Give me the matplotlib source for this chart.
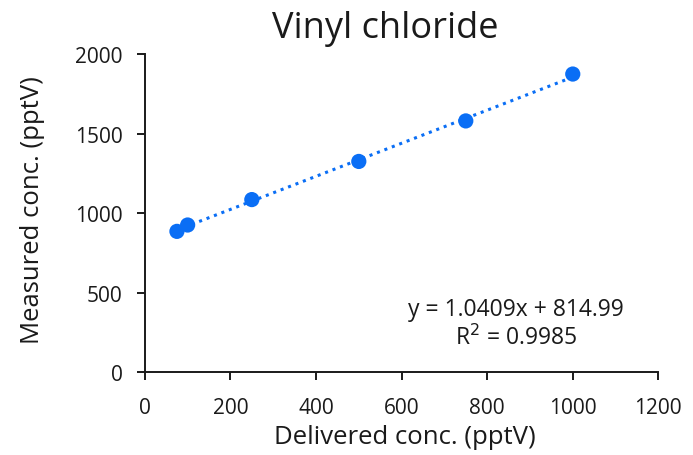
import numpy as np
import matplotlib
matplotlib.use('Agg')
import matplotlib.pyplot as plt

plt.rcParams['font.family'] = ['Open Sans', 'DejaVu Sans']

# data
delivered = [75, 100, 250, 500, 750, 1000]
measured = [885, 925, 1085, 1325, 1580, 1875]
slope, intercept = 1.0409, 814.99
r2 = 0.9985
x_ticks = [0, 200, 400, 600, 800, 1000, 1200]
y_ticks = [0, 500, 1000, 1500, 2000]

blue = '#0A6EF5'
ink = '#1a1a1a'

fig = plt.figure(figsize=(6.93, 4.56), dpi=100)
ax = fig.add_axes([0.209, 0.182, 0.741, 0.697])

# trend line
xl = np.array([min(delivered), max(delivered)])
ax.plot(xl, slope * xl + intercept, linestyle=(0, (1, 1.6)), color=blue, linewidth=2.2, zorder=2)
ax.scatter(delivered, measured, s=120, color=blue, zorder=3, edgecolors='none')

ax.set_xlim(0, 1200)
ax.set_ylim(0, 2000)
ax.set_xticks(x_ticks)
ax.set_yticks(y_ticks)
ax.tick_params(direction='out', length=6, width=1.4, labelsize=15, colors=ink)
ax.tick_params(axis='x', pad=12)
ax.tick_params(axis='y', pad=10)
for s in ['top', 'right']:
    ax.spines[s].set_visible(False)
for s in ['left', 'bottom']:
    ax.spines[s].set_linewidth(1.4)
    ax.spines[s].set_color(ink)

fig.text(385 / 693, 1 - 29 / 456, 'Vinyl chloride', fontsize=26, ha='center', va='center', color=ink)
ax.set_xlabel('Delivered conc. (pptV)', fontsize=18.5, color=ink, va='center')
ax.set_ylabel('Measured conc. (pptV)', fontsize=18.5, color=ink, va='center')
ax.xaxis.set_label_coords(0.507, -0.204)
ax.yaxis.set_label_coords(-0.218, 0.513)

ax.text(0.723, 0.198, 'y = %.4fx + %.2f' % (slope, intercept), transform=ax.transAxes,
        ha='center', va='center', fontsize=16.5, color=ink)
ax.text(0.723, 0.110, 'R$^2$ = %.4f' % r2, transform=ax.transAxes,
        ha='center', va='center', fontsize=16.5, color=ink)

fig.savefig('out.png', dpi=100)
